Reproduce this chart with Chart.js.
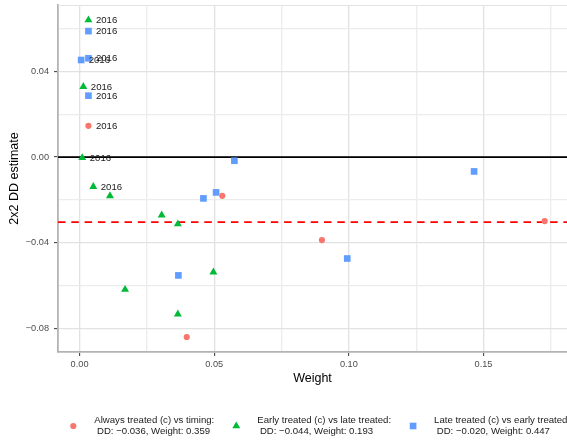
<!DOCTYPE html>
<html>
<head>
<meta charset="utf-8">
<script src="https://cdn.jsdelivr.net/npm/chart.js@4.4.1/dist/chart.umd.min.js"></script>
<style>
  html, body { margin: 0; padding: 0; background: #fff; }
  #wrap { width: 567px; height: 441px; }
</style>
</head>
<body>
<div id="wrap"><canvas id="ddChart" width="567" height="441"></canvas></div>
<script>
// Goodman-Bacon style decomposition: weight vs 2x2 DD estimate

// Always treated (c) vs timing
const alwaysWeight   = [0.0033, 0.0530, 0.0900, 0.1727, 0.0398];
const alwaysEstimate = [0.0146, -0.0181, -0.0388, -0.0299, -0.0841];
const alwaysLabel    = ['2016', '', '', '', ''];

// Early treated (c) vs late treated
const earlyWeight   = [0.0033, 0.0014, 0.0010, 0.0051, 0.0113, 0.0305, 0.0365, 0.0497, 0.0169, 0.0365];
const earlyEstimate = [0.0641, 0.0329, -0.0003, -0.0138, -0.0181, -0.0271, -0.0313, -0.0538, -0.0619, -0.0734];
const earlyLabel    = ['2016', '2016', '2016', '2016', '', '', '', '', '', ''];

// Late treated (c) vs early treated
const lateWeight   = [0.0033, 0.0033, 0.0006, 0.0033, 0.0575, 0.0507, 0.0460, 0.0367, 0.0994, 0.1465];
const lateEstimate = [0.0589, 0.0462, 0.0454, 0.0287, -0.0017, -0.0165, -0.0193, -0.0553, -0.0474, -0.0067];
const lateLabel    = ['2016', '2016', '2016', '2016', '', '', '', '', '', ''];

const legendText = [
    ['Always treated (c) vs timing:', ' DD: \u22120.036, Weight: 0.359'],
    ['Early treated (c) vs late treated:', ' DD: \u22120.044, Weight: 0.193'],
    ['Late treated (c) vs early treated:', ' DD: \u22120.020, Weight: 0.447']
];

// overall DD (weighted average) and the zero line
const overallEstimate = -0.0304;
const zeroLine = 0;

// axis ticks
const xMajor = [0, 0.05, 0.10, 0.15];
const xMajorLabels = ['0.00', '0.05', '0.10', '0.15'];
const xMinor = [0.025, 0.075, 0.125, 0.175];
const yMajor = [-0.08, -0.04, 0, 0.04];
const yMajorLabels = ['\u22120.08', '\u22120.04', '0.00', '0.04'];
const yMinor = [-0.06, -0.02, 0.02, 0.06];

const FONT = '"Liberation Sans", Arial, Helvetica, sans-serif';
Chart.defaults.font.family = FONT;

function toPoints(xs, ys) {
    return xs.map((x, i) => ({ x: x, y: ys[i] }));
}

function majorIndex(list, v) {
    return list.findIndex(m => Math.abs(m - v) < 1e-9);
}

// no extra label padding around the panel
function noScalePadding(s) {
    s.paddingTop = 0;
    s.paddingBottom = 0;
    s.paddingLeft = 0;
    s.paddingRight = 0;
}

// Draw a ggplot-like marker
function drawMarker(ctx, style, r, x, y, color) {
    ctx.fillStyle = color;
    ctx.beginPath();
    if (style === 'circle') {
        ctx.arc(x, y, r, 0, Math.PI * 2);
    } else if (style === 'triangle') {
        ctx.moveTo(x, y - r);
        ctx.lineTo(x + r * Math.sin(Math.PI / 3), y + r / 2);
        ctx.lineTo(x - r * Math.sin(Math.PI / 3), y + r / 2);
        ctx.closePath();
    } else {
        const s = r * Math.SQRT1_2;
        ctx.rect(x - s, y - s, 2 * s, 2 * s);
    }
    ctx.fill();
}

// Reference lines + panel top edge
const refLines = {
    id: 'refLines',
    beforeDatasetsDraw(chart) {
        const { ctx, chartArea, scales } = chart;
        ctx.save();
        ctx.strokeStyle = '#e3e3e3';
        ctx.lineWidth = 1.2;
        ctx.beginPath();
        ctx.moveTo(chartArea.left, chartArea.top + 0.5);
        ctx.lineTo(chartArea.right, chartArea.top + 0.5);
        ctx.stroke();

        const y0 = scales.y.getPixelForValue(zeroLine);
        ctx.strokeStyle = '#000';
        ctx.lineWidth = 1.8;
        ctx.beginPath();
        ctx.moveTo(chartArea.left, y0);
        ctx.lineTo(chartArea.right, y0);
        ctx.stroke();

        const yAvg = scales.y.getPixelForValue(overallEstimate);
        ctx.strokeStyle = '#ff0000';
        ctx.setLineDash([7.5, 5.8]);
        ctx.beginPath();
        ctx.moveTo(chartArea.left, yAvg);
        ctx.lineTo(chartArea.right, yAvg);
        ctx.stroke();
        ctx.restore();
    }
};

// "2016" labels next to points
const pointLabels = {
    id: 'pointLabels',
    afterDatasetsDraw(chart) {
        const ctx = chart.ctx;
        ctx.save();
        ctx.font = '9.6px ' + FONT;
        ctx.fillStyle = '#1a1a1a';
        ctx.textAlign = 'left';
        ctx.textBaseline = 'middle';
        chart.data.datasets.forEach((ds, i) => {
            const meta = chart.getDatasetMeta(i);
            ds.pointLabels.forEach((txt, j) => {
                if (!txt) return;
                const el = meta.data[j];
                ctx.fillText(txt, el.x + 7.5, el.y + 0.5);
            });
        });
        ctx.restore();
    }
};

// Bottom legend with two-line entries
const bottomLegend = {
    id: 'bottomLegend',
    afterDraw(chart) {
        const ctx = chart.ctx;
        ctx.save();
        ctx.font = '9.6px ' + FONT;
        ctx.textAlign = 'left';
        ctx.textBaseline = 'middle';
        const yMid = 426;
        let x = 73.3;
        chart.data.datasets.forEach((ds, i) => {
            drawMarker(ctx, ds.pointStyle, ds.pointRadius, x, yMid, ds.backgroundColor);
            const lines = legendText[i];
            const tx = x + 21;
            ctx.fillStyle = '#1a1a1a';
            ctx.fillText(lines[0], tx, yMid - 5.3);
            ctx.fillText(lines[1], tx, yMid + 5.3);
            const w = Math.max(ctx.measureText(lines[0]).width, ctx.measureText(lines[1]).width);
            x = tx + w + 22;
        });
        ctx.restore();
    }
};

const ctx = document.getElementById('ddChart').getContext('2d');

new Chart(ctx, {
    type: 'scatter',
    data: {
        datasets: [
            {
                label: 'Always treated (c) vs timing',
                data: toPoints(alwaysWeight, alwaysEstimate),
                pointLabels: alwaysLabel,
                pointStyle: 'circle',
                pointRadius: 3.1,
                pointHoverRadius: 3.1,
                backgroundColor: '#F8766D',
                borderWidth: 0
            },
            {
                label: 'Early treated (c) vs late treated',
                data: toPoints(earlyWeight, earlyEstimate),
                pointLabels: earlyLabel,
                pointStyle: 'triangle',
                pointRadius: 4.6,
                pointHoverRadius: 4.6,
                backgroundColor: '#00BA38',
                borderWidth: 0
            },
            {
                label: 'Late treated (c) vs early treated',
                data: toPoints(lateWeight, lateEstimate),
                pointLabels: lateLabel,
                pointStyle: 'rect',
                pointRadius: 4.7,
                pointHoverRadius: 4.7,
                backgroundColor: '#619CFF',
                borderWidth: 0
            }
        ]
    },
    options: {
        responsive: false,
        animation: false,
        events: [],
        layout: {
            autoPadding: false,
            padding: { left: 0, right: 0, top: 5, bottom: 54.5 }
        },
        plugins: {
            legend: { display: false },
            tooltip: { enabled: false }
        },
        scales: {
            x: {
                type: 'linear',
                min: -0.008,
                max: 0.181,
                afterBuildTicks: s => { s.ticks = xMajor.concat(xMinor).sort((a, b) => a - b).map(v => ({ value: v })); },
                afterFit: s => { s.height = 34.5; noScalePadding(s); },
                ticks: {
                    autoSkip: false,
                    maxRotation: 0,
                    padding: 3,
                    color: '#4d4d4d',
                    font: { size: 9.2 },
                    callback: v => {
                        const k = majorIndex(xMajor, v);
                        return k >= 0 ? xMajorLabels[k] : '';
                    }
                },
                grid: {
                    color: c => majorIndex(xMajor, c.tick.value) >= 0 ? '#e2e2e2' : '#ececec',
                    lineWidth: 1.3,
                    tickLength: 4,
                    tickWidth: 1,
                    tickColor: c => majorIndex(xMajor, c.tick.value) >= 0 ? '#333333' : 'rgba(0,0,0,0)'
                },
                border: { color: '#b3b3b3', width: 1.8 },
                title: {
                    display: true,
                    text: 'Weight',
                    color: '#000',
                    font: { size: 12.5 },
                    padding: { top: 0, bottom: 0 }
                }
            },
            y: {
                type: 'linear',
                min: -0.0911,
                max: 0.0711,
                afterBuildTicks: s => { s.ticks = yMajor.concat(yMinor).sort((a, b) => a - b).map(v => ({ value: v })); },
                afterFit: s => { s.width = 58; noScalePadding(s); },
                ticks: {
                    autoSkip: false,
                    padding: 5,
                    color: '#4d4d4d',
                    font: { size: 9.2 },
                    callback: v => {
                        const k = majorIndex(yMajor, v);
                        return k >= 0 ? yMajorLabels[k] : '';
                    }
                },
                grid: {
                    color: c => majorIndex(yMajor, c.tick.value) >= 0 ? '#e2e2e2' : '#ececec',
                    lineWidth: 1.3,
                    tickLength: 4,
                    tickWidth: 1,
                    tickColor: c => majorIndex(yMajor, c.tick.value) >= 0 ? '#333333' : 'rgba(0,0,0,0)'
                },
                border: { color: '#b3b3b3', width: 1.8 },
                title: {
                    display: true,
                    text: '2x2 DD estimate',
                    color: '#000',
                    font: { size: 12.5 },
                    padding: { top: 7.5, bottom: 0 }
                }
            }
        }
    },
    plugins: [refLines, pointLabels, bottomLegend]
});
</script>
</body>
</html>
